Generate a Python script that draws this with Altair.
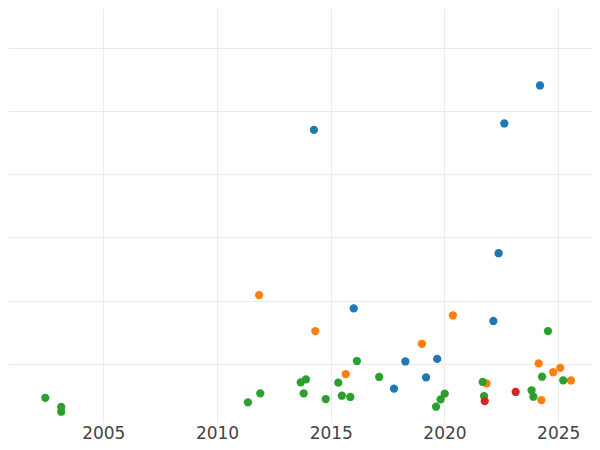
import altair as alt
import pandas as pd

# Series data (year, value)
blue_year = [2014.26, 2022.63, 2024.20, 2022.38, 2016.01, 2022.15, 2018.28, 2019.68, 2019.19, 2017.78]
blue_val = [47.0, 48.0, 54.0, 27.5, 18.8, 16.8, 10.4, 10.8, 7.9, 6.1]

orange_year = [2011.85, 2014.32, 2015.66, 2019.01, 2020.37, 2021.85, 2024.14, 2024.78, 2025.09, 2025.56, 2024.26]
orange_val = [20.9, 15.2, 8.4, 13.2, 17.7, 6.95, 10.1, 8.7, 9.4, 7.4, 4.3]

green_year = [2002.45, 2003.15, 2003.15, 2011.36, 2011.90, 2013.68, 2013.91, 2013.81, 2014.78, 2015.33,
              2015.49, 2015.86, 2016.15, 2017.13, 2019.63, 2019.83, 2020.01, 2021.68, 2021.74, 2024.55,
              2024.29, 2023.83, 2023.91, 2025.22]
green_val = [4.66, 3.21, 2.46, 3.95, 5.37, 7.11, 7.58, 5.37, 4.47, 7.05,
             4.99, 4.79, 10.47, 7.95, 3.25, 4.42, 5.31, 7.16, 4.94, 15.2,
             7.99, 5.85, 4.83, 7.42]

red_year = [2021.77, 2023.13]
red_val = [4.15, 5.58]

categories = ["A", "B", "C", "D"]
colors = ["#1f77b4", "#ff7f0e", "#2ca02c", "#d62728"]

x_ticks = [2005, 2010, 2015, 2020, 2025]
y_ticks = [10, 20, 30, 40, 50, 60]

rows = []
for cat, ys, vs in zip(categories, [blue_year, orange_year, green_year, red_year],
                       [blue_val, orange_val, green_val, red_val]):
    for y, v in zip(ys, vs):
        rows.append({"year": y, "value": v, "group": cat})
df = pd.DataFrame(rows)

chart = alt.Chart(df).mark_circle(size=68, opacity=1).encode(
    x=alt.X("year:Q", title=None,
            scale=alt.Scale(domain=[2000.81, 2026.486], nice=False, zero=False),
            axis=alt.Axis(values=x_ticks, format="d", domain=False, ticks=False,
                          labelFontSize=17, labelFont="DejaVu Sans", labelColor="#444444",
                          labelPadding=3, gridColor="#ebebeb", gridWidth=1)),
    y=alt.Y("value:Q", title=None,
            scale=alt.Scale(domain=[0.84, 66.24], nice=False),
            axis=alt.Axis(values=y_ticks, labels=False, domain=False, ticks=False,
                          gridColor="#ebebeb", gridWidth=1)),
    color=alt.Color("group:N", scale=alt.Scale(domain=categories, range=colors), legend=None),
).properties(
    width=584, height=414,
    autosize=alt.AutoSizeParams(type="none"),
    padding={"left": 0, "top": 0, "right": 0, "bottom": 20},
).configure_view(stroke=None)

chart.save("out.html", embed_options={"renderer": "svg", "actions": False})
